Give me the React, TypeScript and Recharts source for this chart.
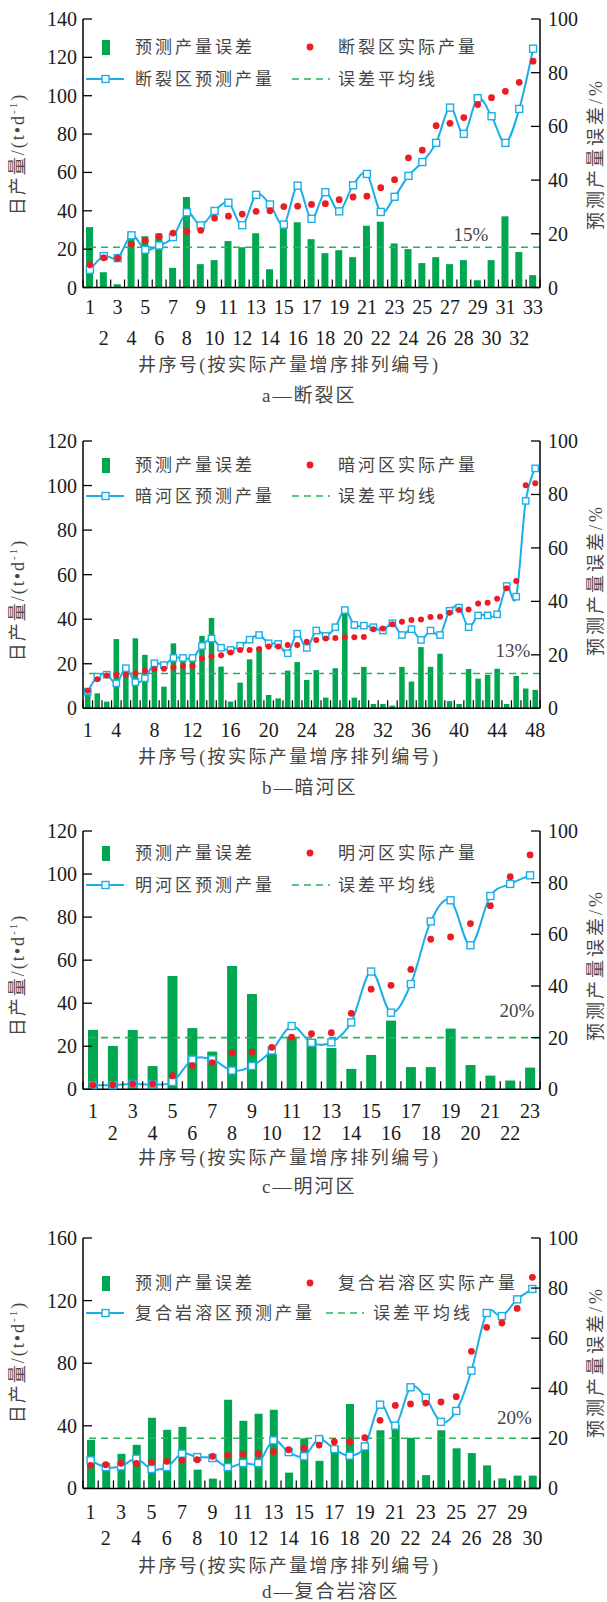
import React from 'react';
import { ComposedChart, Bar, Line, XAxis, YAxis, ReferenceLine } from 'recharts';

const GREEN = '#00a650';
const DASH_GREEN = '#2bb35b';
const RED = '#ec1c24';
const BLUE = '#1aaeea';
const INK = '#1a1a1a';
const GREY = '#444';
const FONT = '"Liberation Serif", "Noto Sans CJK SC", serif';

// a — 断裂区
const wellsA = [1, 2, 3, 4, 5, 6, 7, 8, 9, 10, 11, 12, 13, 14, 15, 16, 17, 18, 19, 20, 21, 22, 23, 24, 25, 26, 27, 28, 29, 30, 31, 32, 33];
const errA = [22.5, 5.7, 1.2, 20.5, 19.1, 20.1, 7.3, 33.7, 8.7, 10.2, 17.3, 15.0, 20.2, 6.8, 22.2, 24.3, 18.0, 12.8, 13.9, 11.3, 23.0, 24.5, 16.4, 14.3, 9.1, 11.3, 8.7, 10.2, 2.7, 10.2, 26.5, 13.2, 4.6];
const actualA = [11.8, 15.5, 15.3, 22.5, 24.5, 26.6, 28.4, 29.2, 29.8, 36.2, 37.2, 38.3, 39.7, 40.0, 42.2, 42.4, 43.3, 43.7, 45.8, 47.2, 47.6, 52.0, 56.2, 67.6, 71.6, 84.4, 85.6, 88.6, 95.4, 99.0, 102.3, 107.0, 118.0];
const predA = [9.2, 16.4, 15.3, 27.2, 19.7, 21.9, 26.3, 39.2, 32.4, 39.9, 44.2, 32.5, 48.3, 43.3, 32.8, 53.1, 35.8, 49.7, 39.7, 53.3, 59.2, 39.4, 47.3, 58.2, 65.4, 75.4, 93.8, 80.1, 98.7, 89.3, 75.4, 93.1, 124.5];
const avgA = 15;
const yTicksA = [0, 20, 40, 60, 80, 100, 120, 140];

// b — 暗河区
const wellsB = [1, 2, 3, 4, 5, 6, 7, 8, 9, 10, 11, 12, 13, 14, 15, 16, 17, 18, 19, 20, 21, 22, 23, 24, 25, 26, 27, 28, 29, 30, 31, 32, 33, 34, 35, 36, 37, 38, 39, 40, 41, 42, 43, 44, 45, 46, 47, 48];
const errB = [5.0, 5.6, 2.5, 25.9, 15.6, 26.2, 20.0, 17.0, 8.1, 24.3, 19.3, 19.3, 27.1, 33.8, 15.6, 2.5, 9.6, 18.3, 22.7, 5.0, 3.7, 14.1, 17.3, 10.6, 14.3, 4.0, 15.0, 37.4, 4.0, 15.5, 1.6, 1.6, 1.0, 15.5, 10.0, 22.9, 15.5, 20.4, 2.7, 1.6, 14.7, 11.1, 12.5, 14.8, 1.6, 12.1, 7.4, 6.9];
const actualB = [7.9, 13.0, 14.7, 15.0, 15.0, 15.7, 16.9, 17.5, 17.8, 18.3, 19.0, 19.0, 22.3, 23.2, 23.8, 25.1, 26.2, 26.2, 26.6, 27.7, 27.7, 28.4, 28.4, 29.9, 30.7, 31.3, 31.6, 31.9, 31.9, 32.0, 35.5, 35.8, 37.7, 38.9, 39.6, 39.9, 41.0, 41.1, 42.9, 44.1, 44.3, 47.0, 47.4, 49.2, 53.9, 57.2, 100.1, 101.0];
const predB = [7.5, 14.2, 15.1, 11.2, 18.0, 11.7, 13.5, 20.2, 19.4, 22.6, 22.6, 22.6, 28.0, 31.3, 27.2, 26.2, 28.1, 30.8, 32.9, 29.2, 28.9, 24.7, 33.5, 27.1, 34.9, 32.5, 36.4, 44.1, 37.4, 37.1, 36.4, 34.9, 38.2, 32.9, 35.5, 30.7, 34.9, 32.9, 43.8, 45.2, 36.4, 41.7, 41.7, 42.2, 54.9, 50.1, 93.1, 107.7];
const avgB = 13;
const yTicksB = [0, 20, 40, 60, 80, 100, 120];
const xLabelsB = [1, 4, 8, 12, 16, 20, 24, 28, 32, 36, 40, 44, 48];

// c — 明河区
const wellsC = [1, 2, 3, 4, 5, 6, 7, 8, 9, 10, 11, 12, 13, 14, 15, 16, 17, 18, 19, 20, 21, 22, 23];
const errC = [23.0, 16.8, 23.0, 9.0, 43.9, 23.7, 14.6, 47.7, 36.9, 13.8, 20.4, 19.5, 16.0, 7.9, 13.3, 26.6, 8.6, 8.6, 23.5, 9.4, 5.3, 3.4, 8.4];
const actualC = [1.9, 2.0, 2.5, 2.5, 6.3, 11.0, 12.4, 16.9, 17.3, 19.5, 24.2, 25.8, 26.3, 35.3, 46.5, 48.3, 55.7, 69.7, 70.8, 77.0, 85.3, 98.8, 108.9];
const predC = [1.9, 1.9, 2.5, 2.3, 3.4, 13.8, 13.9, 8.7, 10.8, 18.0, 29.4, 21.6, 21.8, 31.1, 54.7, 35.6, 48.9, 78.0, 87.8, 66.9, 89.8, 95.4, 99.4];
const avgC = 20;
const yTicksC = [0, 20, 40, 60, 80, 100, 120];

// d — 复合岩溶区
const wellsD = [1, 2, 3, 4, 5, 6, 7, 8, 9, 10, 11, 12, 13, 14, 15, 16, 17, 18, 19, 20, 21, 22, 23, 24, 25, 26, 27, 28, 29, 30];
const errD = [19.4, 10.1, 13.8, 17.4, 28.2, 23.4, 24.6, 7.5, 3.9, 35.4, 27.0, 29.8, 31.4, 6.3, 20.0, 11.0, 16.8, 33.7, 17.4, 23.2, 25.3, 20.2, 5.3, 23.2, 16.0, 14.1, 9.2, 4.0, 5.1, 5.1];
const actualD = [14.7, 15.1, 16.0, 16.0, 16.8, 17.3, 17.9, 18.3, 20.5, 21.1, 21.9, 22.2, 23.4, 24.7, 25.8, 27.7, 29.8, 29.8, 32.4, 43.5, 53.0, 54.0, 54.5, 55.2, 58.6, 87.6, 102.9, 105.7, 115.0, 134.9];
const predD = [17.9, 13.6, 14.1, 19.0, 12.4, 13.6, 22.2, 20.0, 19.4, 13.6, 16.2, 16.2, 30.7, 23.2, 20.5, 31.5, 25.1, 20.9, 26.8, 53.5, 40.1, 64.6, 57.9, 42.5, 49.5, 75.2, 112.1, 110.1, 120.8, 127.4];
const avgD = 20;
const yTicksD = [0, 40, 80, 120, 160];

const errTicks = [0, 20, 40, 60, 80, 100];

const W = 607;
const PLOT_L = 83;
const PLOT_R = 540;
const PLOT_W = PLOT_R - PLOT_L;
const TOP_PAD = 14;
const X_AXIS_H = 64;

// catmull-rom style spline (same maths as d3 curveCardinal, tension 0)
const spline = (context: any) => {
  let x0 = NaN, x1 = NaN, x2 = NaN, y0 = NaN, y1 = NaN, y2 = NaN;
  let n = 0;
  let flag: number = NaN;
  const k = 1 / 6;
  const seg = (x: number, y: number) => {
    context.bezierCurveTo(x1 + k * (x2 - x0), y1 + k * (y2 - y0), x2 + k * (x1 - x), y2 + k * (y1 - y), x2, y2);
  };
  return {
    areaStart() { flag = 0; },
    areaEnd() { flag = NaN; },
    lineStart() { x0 = x1 = x2 = y0 = y1 = y2 = NaN; n = 0; },
    lineEnd() {
      if (n === 2) context.lineTo(x2, y2);
      else if (n === 3) seg(x1, y1);
      if (flag || (flag !== 0 && n === 1)) context.closePath();
      flag = 1 - flag;
    },
    point(x: number, y: number) {
      x = +x; y = +y;
      if (n === 0) { n = 1; if (flag) context.lineTo(x, y); else context.moveTo(x, y); }
      else if (n === 1) { n = 2; x1 = x; y1 = y; }
      else { n = 3; seg(x, y); }
      x0 = x1; x1 = x2; x2 = x;
      y0 = y1; y1 = y2; y2 = y;
    },
  };
};

const LeftTick = (t: any) => (
  <g>
    <line x1={t.x} x2={t.x + 9} y1={t.y} y2={t.y} stroke="#000" strokeWidth={1.3} />
    <text x={t.x - 6} y={t.y} textAnchor="end" dominantBaseline="central" fontSize={20} fontFamily={FONT} fill={INK}>
      {t.payload.value}
    </text>
  </g>
);

const RightTick = (t: any) => (
  <g>
    <line x1={t.x} x2={t.x - 9} y1={t.y} y2={t.y} stroke="#000" strokeWidth={1.3} />
    <text x={t.x + 8} y={t.y} textAnchor="start" dominantBaseline="central" fontSize={20} fontFamily={FONT} fill={INK}>
      {t.payload.value}
    </text>
  </g>
);

type PanelProps = {
  top: number;
  plotH: number;
  wells: number[];
  err: number[];
  actual: number[];
  pred: number[];
  avg: number;
  yTicks: number[];
  shown: number[];
  rows: number[];
  sq: number;
  r: number;
  barSize: number;
};

function Panel(p: PanelProps) {
  const data = p.wells.map((w, i) => ({ well: w, err: p.err[i], actual: p.actual[i], pred: p.pred[i] }));
  const n = data.length;
  const band = PLOT_W / n;
  const yMax = p.yTicks[p.yTicks.length - 1];

  const XTick = (t: any) => {
    const v = t.payload.value;
    const show = p.shown.includes(v);
    const off = p.rows.length > 1 ? p.rows[t.index % 2] : p.rows[0];
    return (
      <g>
        <line x1={t.x - band / 2} x2={t.x - band / 2} y1={t.y} y2={t.y - 8} stroke="#000" strokeWidth={1.2} />
        {t.index === n - 1 && (
          <line x1={t.x + band / 2} x2={t.x + band / 2} y1={t.y} y2={t.y - 8} stroke="#000" strokeWidth={1.2} />
        )}
        {show && (
          <text x={t.x} y={t.y + off} textAnchor="middle" dominantBaseline="central" fontSize={20} fontFamily={FONT} fill={INK}>
            {v}
          </text>
        )}
      </g>
    );
  };

  return (
    <div style={{ position: 'absolute', left: 0, top: p.top - TOP_PAD }}>
      <ComposedChart width={W} height={TOP_PAD + p.plotH + X_AXIS_H} data={data} margin={{ top: TOP_PAD, right: 0, bottom: 0, left: 0 }}>
        <XAxis
          dataKey="well"
          interval={0}
          height={X_AXIS_H}
          tickSize={0}
          tickMargin={0}
          tickLine={false}
          axisLine={{ stroke: '#000', strokeWidth: 1.5 }}
          tick={(t: any) => <XTick {...t} />}
        />
        <YAxis
          yAxisId="left"
          domain={[0, yMax]}
          ticks={p.yTicks}
          interval={0}
          width={PLOT_L}
          tickSize={0}
          tickMargin={0}
          tickLine={false}
          axisLine={{ stroke: '#000', strokeWidth: 1.5 }}
          tick={(t: any) => <LeftTick {...t} />}
        />
        <YAxis
          yAxisId="right"
          orientation="right"
          domain={[0, 100]}
          ticks={errTicks}
          interval={0}
          width={W - PLOT_R}
          tickSize={0}
          tickMargin={0}
          tickLine={false}
          axisLine={{ stroke: '#000', strokeWidth: 1.5 }}
          tick={(t: any) => <RightTick {...t} />}
        />
        <Bar yAxisId="right" dataKey="err" fill={GREEN} barSize={p.barSize} isAnimationActive={false} />
        <ReferenceLine yAxisId="right" y={p.avg} stroke={DASH_GREEN} strokeDasharray="7 5" strokeWidth={1.6} />
        <Line
          yAxisId="left"
          dataKey="pred"
          type={spline as any}
          stroke={BLUE}
          strokeWidth={2}
          isAnimationActive={false}
          dot={(d: any) => (
            <rect key={`sq${d.index}`} x={d.cx - p.sq / 2} y={d.cy - p.sq / 2} width={p.sq} height={p.sq} fill="#fff" stroke={BLUE} strokeWidth={1.4} />
          )}
        />
        <Line
          yAxisId="left"
          dataKey="actual"
          stroke="none"
          isAnimationActive={false}
          dot={(d: any) => <circle key={`dt${d.index}`} cx={d.cx} cy={d.cy} r={p.r} fill={RED} stroke="none" />}
        />
      </ComposedChart>
    </div>
  );
}

const txt = (extra: React.CSSProperties): React.CSSProperties => ({
  position: 'absolute',
  whiteSpace: 'nowrap',
  fontFamily: FONT,
  color: GREY,
  lineHeight: 1,
  ...extra,
});

function LegendBlock({ r1, r2, actualName, predName, dashX, dashText }: any) {
  const item = { fontSize: 17, letterSpacing: 3, transform: 'translateY(-50%)' };
  return (
    <>
      <div style={{ position: 'absolute', left: 102, top: r1 - 7.5, width: 7.5, height: 15, background: GREEN }} />
      <div style={txt({ left: 135, top: r1, ...item })}>预测产量误差</div>
      <svg style={{ position: 'absolute', left: 305, top: r1 - 5 }} width={10} height={10}>
        <circle cx={5} cy={5} r={3.4} fill={RED} />
      </svg>
      <div style={txt({ left: 338, top: r1, ...item })}>{actualName}</div>
      <svg style={{ position: 'absolute', left: 86, top: r2 - 6 }} width={38} height={12}>
        <line x1={0} x2={38} y1={6} y2={6} stroke={BLUE} strokeWidth={2} />
        <rect x={16} y={2.5} width={7} height={7} fill="#fff" stroke={BLUE} strokeWidth={1.4} />
      </svg>
      <div style={txt({ left: 135, top: r2, ...item })}>{predName}</div>
      <svg style={{ position: 'absolute', left: dashX, top: r2 - 3 }} width={38} height={6}>
        <line x1={0} x2={38} y1={3} y2={3} stroke={DASH_GREEN} strokeWidth={1.6} strokeDasharray="7 5" />
      </svg>
      <div style={txt({ left: dashText, top: r2, ...item })}>误差平均线</div>
    </>
  );
}

function Frame({ leftY, rightY, caption, titleY, captionY, avgLabel, avgX, avgY }: any) {
  return (
    <>
      <div style={txt({ left: 18, top: leftY, fontSize: 18, letterSpacing: 2, transform: 'translate(-50%,-50%) rotate(-90deg)' })}>
        日产量/(t•d<sup style={{ fontSize: 11, verticalAlign: 'super', lineHeight: 0 }}>-1</sup>)
      </div>
      <div style={txt({ left: 596, top: rightY, fontSize: 18, letterSpacing: 3, transform: 'translate(-50%,-50%) rotate(-90deg)' })}>
        预测产量误差/%
      </div>
      <div style={txt({ left: avgX, top: avgY, fontSize: 19, transform: 'translate(-50%,-50%)' })}>{avgLabel}</div>
      <div style={txt({ left: 138, top: titleY, fontSize: 18, letterSpacing: 2.4, transform: 'translateY(-50%)' })}>
        井序号(按实际产量增序排列编号)
      </div>
      <div style={txt({ left: 262, top: captionY, fontSize: 19, letterSpacing: 2, transform: 'translateY(-50%)' })}>
        {caption}
      </div>
    </>
  );
}

export default function App() {
  return (
    <div style={{ position: 'absolute', left: 0, top: 0, width: W, height: 1602, background: '#fff', overflow: 'hidden' }}>
      <Panel top={19} plotH={268.5} wells={wellsA} err={errA} actual={actualA} pred={predA} avg={avgA}
        yTicks={yTicksA} shown={wellsA} rows={[19.5, 50]} sq={7} r={3.4} barSize={7} />
      <Panel top={441} plotH={267.3} wells={wellsB} err={errB} actual={actualB} pred={predB} avg={avgB}
        yTicks={yTicksB} shown={xLabelsB} rows={[21.5]} sq={6.3} r={3} barSize={5.5} />
      <Panel top={831} plotH={258.3} wells={wellsC} err={errC} actual={actualC} pred={predC} avg={avgC}
        yTicks={yTicksC} shown={wellsC} rows={[21.5, 44]} sq={7} r={3.4} barSize={10} />
      <Panel top={1238.3} plotH={250.4} wells={wellsD} err={errD} actual={actualD} pred={predD} avg={avgD}
        yTicks={yTicksD} shown={wellsD} rows={[23.5, 50]} sq={7} r={3.4} barSize={8} />

      <LegendBlock r1={47} r2={79} actualName="断裂区实际产量" predName="断裂区预测产量" dashX={292} dashText={338} />
      <LegendBlock r1={465} r2={496} actualName="暗河区实际产量" predName="暗河区预测产量" dashX={292} dashText={338} />
      <LegendBlock r1={853} r2={885} actualName="明河区实际产量" predName="明河区预测产量" dashX={292} dashText={338} />
      <LegendBlock r1={1283} r2={1313} actualName="复合岩溶区实际产量" predName="复合岩溶区预测产量" dashX={326} dashText={373} />

      <Frame leftY={154} rightY={154} caption="a—断裂区" titleY={365} captionY={394.5} avgLabel={`${avgA}%`} avgX={471} avgY={234} />
      <Frame leftY={600} rightY={580} caption="b—暗河区" titleY={757} captionY={787} avgLabel={`${avgB}%`} avgX={513} avgY={650} />
      <Frame leftY={975} rightY={965} caption="c—明河区" titleY={1158} captionY={1185.5} avgLabel={`${avgC}%`} avgX={517} avgY={1010} />
      <Frame leftY={1362} rightY={1362} caption="d—复合岩溶区" titleY={1565.5} captionY={1591} avgLabel={`${avgD}%`} avgX={514.5} avgY={1417} />
    </div>
  );
}
